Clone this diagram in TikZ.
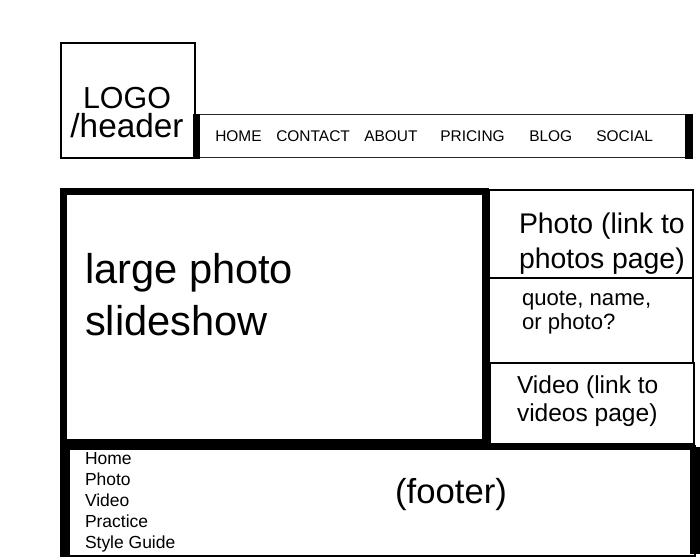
\documentclass[tikz,border=0pt]{standalone}
\usepackage{fontspec}
\setmainfont{Liberation Sans}
\usetikzlibrary{positioning}

\newcommand{\fsz}[2]{\fontsize{#1}{#2}\selectfont}

\begin{document}
\begin{tikzpicture}[x=0.75pt, y=-0.75pt,
  frame/.style={draw=black, line width=1.5pt},
  navframe/.style={draw=black!85, line width=1.1pt},
  heavy/.style={draw=black, line width=5.25pt},
  label/.style={inner sep=0pt, outer sep=0pt, align=left},
  navitem/.style={inner sep=0pt, anchor=base west, font=\fsz{11.6}{14}}]
  \useasboundingbox (0,0) rectangle (700,560);

  \draw[frame] (61,43) rectangle (195,158);
  \draw[navframe] (199,114.5) rectangle (690,157.5);
  \fill (193,114) rectangle (200,158.5);
  \fill (685,114) rectangle (693,158.5);

  \draw[heavy] (63.5,191.5) rectangle (485.5,442.5);
  \draw[frame] (489,190) rectangle (693,278);
  \draw[frame] (489,278) rectangle (693,363);
  \draw[frame] (490,363) rectangle (694,446);

  \draw[frame] (61,446) rectangle (695,555.5);
  \fill (60,444) rectangle (70,556.5);
  \fill (60,443) rectangle (694,450);
  \fill (690,447) rectangle (700,554);

  \node[label, anchor=north, align=center, font=\fsz{22.8}{21.75}] (logo) at (127,87.1) {LOGO\\{\fsz{25}{21.75}/header}};

  \foreach \id/\x/\txt in {home/215/HOME, contact/276/CONTACT, about/364/ABOUT,
      pricing/440/PRICING, blog/529/BLOG, social/596/SOCIAL}
    \node[navitem] (\id) at (\x,141.5) {\txt};

  \node[label, anchor=north west, font=\fsz{31.2}{39}] (slides) at (85,253.6) {large photo\\slideshow};
  \node[label, anchor=north west, font=\fsz{21.3}{26.25}] (photolink) at (519,213) {Photo (link to\\photos page)};
  \node[label, anchor=north west, font=\fsz{16.6}{18}] (quote) at (522,291.5) {quote, name,\\or photo?};
  \node[label, anchor=north west, font=\fsz{18.4}{21}] (videolink) at (517,376) {Video (link to\\videos page)};

  \node[label, anchor=base, font=\fsz{26}{30}] (footer) at (451,503) {(footer)};
  \node[label, anchor=north west, font=\fsz{13.1}{15.75}] (sitemap) at (85,452.5) {Home\\Photo\\Video\\Practice\\Style Guide};
\end{tikzpicture}
\end{document}
